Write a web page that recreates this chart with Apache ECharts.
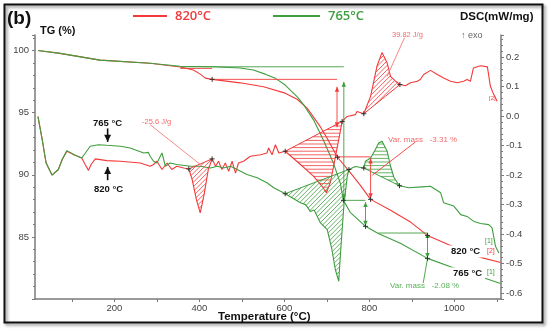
<!DOCTYPE html>
<html><head><meta charset="utf-8">
<script src="https://cdn.jsdelivr.net/npm/echarts@6/dist/echarts.min.js"></script>
<style>html,body{margin:0;padding:0;background:#fff}#c{width:550px;height:330px}</style>
</head><body><div id="c"></div>
<script>
// ---------- DATA ----------
const tgRed = [[20,100.0],[72,99.77],[166,99.23],[284,98.97],[355,98.67],[386,98.43],[402,98.10],[414,97.78],[430,97.68],[496,97.40],[551,97.08],[602,96.57],[631,96.06],[654,95.34],[685,93.85],[701,92.92],[725,91.41],[751,90.36],[779,89.15],[803,88.02],[850,87.14],[897,86.19],[937,85.12],[991,84.31],[1062,83.35],[1109,82.94]];
const tgGreen = [[20,100.0],[72,99.77],[166,99.23],[284,98.97],[355,98.73],[433,98.69],[496,98.59],[527,98.43],[555,98.10],[579,97.76],[602,97.22],[631,96.25],[646,95.60],[669,94.40],[692,92.78],[716,90.90],[732,89.29],[739,87.94],[755,86.98],[791,85.85],[821,85.28],[873,84.48],[937,83.27],[996,82.54],[1074,81.65],[1109,81.25]];
const dscRed = [[20,-0.002],[30,-0.080],[39,-0.158],[53,-0.200],[68,-0.181],[77,-0.147],[88,-0.119],[105,-0.131],[123,-0.142],[131,-0.164],[139,-0.184],[145,-0.164],[155,-0.145],[182,-0.151],[214,-0.153],[261,-0.159],[284,-0.170],[292,-0.164],[300,-0.153],[312,-0.181],[324,-0.159],[335,-0.181],[347,-0.170],[363,-0.176],[375,-0.179],[383,-0.215],[393,-0.283],[402,-0.328],[411,-0.266],[421,-0.181],[430,-0.145],[438,-0.170],[445,-0.153],[453,-0.181],[461,-0.159],[469,-0.187],[477,-0.153],[485,-0.193],[492,-0.159],[504,-0.153],[520,-0.136],[544,-0.131],[559,-0.125],[563,-0.108],[571,-0.131],[579,-0.097],[587,-0.125],[602,-0.119],[638,-0.164],[669,-0.204],[689,-0.238],[699,-0.260],[708,-0.226],[716,-0.170],[728,-0.080],[736,-0.018],[748,-0.001],[767,0.005],[771,0.016],[787,0.008],[803,0.067],[818,0.169],[830,0.216],[842,0.180],[850,0.135],[862,0.118],[872,0.107],[885,0.103],[897,0.113],[913,0.118],[920,0.124],[928,0.141],[944,0.155],[960,0.141],[975,0.129],[991,0.118],[1007,0.113],[1022,0.118],[1030,0.124],[1038,0.118],[1045,0.163],[1062,0.171],[1078,0.167],[1085,0.101],[1093,0.073],[1101,0.050]];
const dscGreen = [[20,-0.002],[30,-0.080],[39,-0.158],[53,-0.200],[68,-0.181],[77,-0.147],[88,-0.117],[105,-0.131],[123,-0.142],[143,-0.102],[162,-0.097],[182,-0.099],[214,-0.102],[237,-0.108],[269,-0.125],[280,-0.123],[284,-0.136],[292,-0.153],[300,-0.159],[308,-0.136],[312,-0.125],[320,-0.170],[331,-0.159],[347,-0.164],[379,-0.170],[402,-0.170],[426,-0.176],[442,-0.170],[457,-0.176],[473,-0.170],[489,-0.181],[512,-0.198],[536,-0.209],[559,-0.226],[575,-0.243],[591,-0.255],[602,-0.263],[606,-0.266],[638,-0.294],[650,-0.300],[661,-0.323],[670,-0.318],[685,-0.362],[701,-0.385],[712,-0.453],[720,-0.520],[728,-0.560],[732,-0.469],[736,-0.385],[740,-0.306],[748,-0.204],[752,-0.181],[767,-0.171],[787,-0.176],[791,-0.153],[803,-0.142],[814,-0.114],[822,-0.091],[830,-0.085],[842,-0.119],[850,-0.170],[858,-0.208],[871,-0.236],[893,-0.243],[924,-0.240],[944,-0.238],[968,-0.260],[975,-0.294],[999,-0.305],[1015,-0.334],[1030,-0.340],[1046,-0.357],[1062,-0.364],[1081,-0.368],[1089,-0.379],[1097,-0.441],[1105,-0.464]];

const xTickLabels = [200,400,600,800,1000];
const tgTickLabels = [85,90,95,100];
const dscTickLabels = [-0.6,-0.5,-0.4,-0.3,-0.2,-0.1,0.0,0.1,0.2];

// hatched peak areas (temperature ranges on the DSC curves)
const hatchAreas = [
  {curve:'dscRed', from:375, to:430, kind:'diag'},
  {curve:'dscRed', from:602, to:736, kind:'horiz'},
  {curve:'dscRed', from:787, to:872, kind:'diag'},
  {curve:'dscGreen', from:602, to:752, kind:'diag'},
  {curve:'dscGreen', from:787, to:871, kind:'horiz'}
];
// mass-change marks on TG curves
const tgMarksRed = [[430,97.68],[725,91.41],[803,88.02],[937,85.12]];
const tgMarksGreen = [[739,87.94],[791,85.85],[937,83.27]];
// construction lines on TG axis: [T1,TG1],[T2,TG2]
const tgGuidesRed = [
  [[355,98.56],[430,98.56],''],
  [[430,97.68],[724,97.68],''],
  [[724,97.08],[724,93.83],'both'],
  [[725,91.44],[803,91.44],''],
  [[803,91.3],[803,88.1],'both'],
  [[909,92.65],[807,89.96],'']
];
const tgGuidesGreen = [
  [[355,98.69],[740,98.69],''],
  [[740,97.48],[740,88.0],'both'],
  [[739,87.94],[791,87.94],''],
  [[791,87.8],[791,85.9],'both'],
  [[821,85.31],[937,85.31],''],
  [[937,85.31],[937,83.3],'both'],
  [[937,83.27],[927,81.3],'']
];
const tgGuidesBlack = [
  [[184,93.73],[184,92.65],'end'],
  [[184,89.56],[184,90.63],'end']
];
// label leader lines on DSC axis
const dscGuidesRed = [
  [[284,-0.029],[402,-0.164],''],
  [[883,0.266],[842,0.135],'']
];

// ---------- STYLE ----------
const RED = '#f23a3a', GREEN = '#3f9e3f';
const COL = {red:RED, green:GREEN, black:'#111'};
const curves = {dscRed, dscGreen};
const curveColor = {dscRed:RED, dscGreen:GREEN};

function hatchLines(pts, kind, gap) {
  const sf = kind === 'horiz' ? (p => p[1]) : (p => p[0] + p[1]);
  const step = kind === 'horiz' ? gap : gap * Math.SQRT2;
  const ss = pts.map(sf);
  const lo = Math.min(...ss), hi = Math.max(...ss);
  const segs = [];
  for (let s = Math.ceil(lo / step) * step; s <= hi; s += step) {
    const xs = [];
    for (let i = 0; i < pts.length; i++) {
      const j = (i + 1) % pts.length;
      const s1 = ss[i], s2 = ss[j];
      if ((s1 <= s && s < s2) || (s2 <= s && s < s1)) {
        const t = (s - s1) / (s2 - s1);
        xs.push([pts[i][0] + t * (pts[j][0] - pts[i][0]), pts[i][1] + t * (pts[j][1] - pts[i][1])]);
      }
    }
    xs.sort((a, b) => a[0] - b[0]);
    for (let k = 0; k + 1 < xs.length; k += 2) segs.push([xs[k], xs[k + 1]]);
  }
  return segs;
}

function arrowHead(tip, from, color, len, hw) {
  const dx = tip[0] - from[0], dy = tip[1] - from[1];
  const L = Math.hypot(dx, dy) || 1;
  const ux = dx / L, uy = dy / L;
  const bx = tip[0] - ux * len, by = tip[1] - uy * len;
  return {type:'polygon', shape:{points:[tip, [bx - uy * hw, by + ux * hw], [bx + uy * hw, by - ux * hw]]}, style:{fill:color}};
}

function guideSeries(list, color, yIdx, lw, big) {
  return {
    type:'custom', yAxisIndex:yIdx, z:4, silent:true,
    data: list.map((g, i) => [g[0][0], g[0][1], i]),
    renderItem: (params, api) => {
      const g = list[params.dataIndex];
      const p1 = api.coord(g[0]), p2 = api.coord(g[1]);
      const ch = [{type:'line', shape:{x1:p1[0], y1:p1[1], x2:p2[0], y2:p2[1]}, style:{stroke:color, lineWidth:lw}}];
      const len = big ? 7 : 5, hw = big ? 3.5 : 2.2;
      if (g[2] === 'end' || g[2] === 'both') ch.push(arrowHead(p2, p1, color, len, hw));
      if (g[2] === 'both') ch.push(arrowHead(p1, p2, color, len, hw));
      return {type:'group', children:ch};
    }
  };
}

function markSeries(list, yIdx) {
  return {
    type:'custom', yAxisIndex:yIdx, z:6, silent:true,
    data: list.map(p => [p[0], p[1]]),
    renderItem: (params, api) => {
      const p = api.coord([api.value(0), api.value(1)]);
      const r = 2.5;
      return {type:'group', children:[
        {type:'line', shape:{x1:p[0]-r, y1:p[1], x2:p[0]+r, y2:p[1]}, style:{stroke:'#333', lineWidth:1}},
        {type:'line', shape:{x1:p[0], y1:p[1]-r, x2:p[0], y2:p[1]+r}, style:{stroke:'#333', lineWidth:1}}
      ]};
    }
  };
}

const dscMarks = [];
hatchAreas.forEach(h => {
  const pts = curves[h.curve].filter(p => p[0] >= h.from && p[0] <= h.to);
  dscMarks.push(pts[0], pts[pts.length - 1]);
});

const hatchSeries = {
  type:'custom', yAxisIndex:1, z:3, silent:true,
  data: hatchAreas.map((h, i) => [h.from, 0, i]),
  renderItem: (params, api) => {
    const h = hatchAreas[params.dataIndex];
    const color = curveColor[h.curve];
    const pts = curves[h.curve].filter(p => p[0] >= h.from && p[0] <= h.to).map(p => api.coord(p));
    const segs = hatchLines(pts, h.kind, h.kind === 'horiz' ? 3.6 : 3.2);
    const ch = segs.map(s => ({type:'line', shape:{x1:s[0][0], y1:s[0][1], x2:s[1][0], y2:s[1][1]}, style:{stroke:color, lineWidth:0.8}}));
    const a = pts[0], b = pts[pts.length - 1];
    ch.push({type:'line', shape:{x1:a[0], y1:a[1], x2:b[0], y2:b[1]}, style:{stroke:color, lineWidth:1}});
    return {type:'group', children:ch};
  }
};

const axisGray = '#7a7a7a';
const tickFont = {fontFamily:'Liberation Sans', fontSize:9.5, color:'#444'};
const near = (v, arr) => arr.some(a => Math.abs(a - v) < 1e-6);

function txt(text, x, y, opt) {
  return Object.assign({type:'text', x:x, y:y, z:100, style:Object.assign({text:text, fill:'#111', font:'bold 11px "Liberation Sans"', textVerticalAlign:'middle'}, opt || {})});
}

const chart = echarts.init(document.getElementById('c'), null, {renderer:'canvas'});
chart.setOption({
  animation:false,
  backgroundColor:'#fff',
  grid:{left:35, right:49, top:35, bottom:31, containLabel:false},
  xAxis:{
    type:'value', min:13, max:1110, splitNumber:11,
    axisLine:{show:true, onZero:false, lineStyle:{color:axisGray, width:1.5}},
    axisTick:{show:true, length:3, lineStyle:{color:axisGray}},
    splitLine:{show:false},
    axisLabel:Object.assign({margin:4, showMinLabel:false, showMaxLabel:false,
      formatter: v => near(v, xTickLabels) ? String(Math.round(v)) : ''}, tickFont)
  },
  yAxis:[
    {type:'value', position:'left', min:80, max:101.25, interval:5,
     axisLine:{show:true, onZero:false, lineStyle:{color:axisGray, width:1.5}},
     axisTick:{show:true, length:3, lineStyle:{color:axisGray}},
     minorTick:{show:true, splitNumber:5, length:2, lineStyle:{color:axisGray}},
     splitLine:{show:false},
     axisLabel:Object.assign({margin:6, formatter: v => near(v, tgTickLabels) ? String(v) : ''}, tickFont)},
    {type:'value', position:'right', min:-0.62, max:0.275, splitNumber:9,
     axisLine:{show:true, onZero:false, lineStyle:{color:axisGray, width:1.5}},
     axisTick:{show:true, length:3, lineStyle:{color:axisGray}},
     minorTick:{show:true, splitNumber:5, length:2, lineStyle:{color:axisGray}},
     splitLine:{show:false},
     axisLabel:Object.assign({margin:5, showMinLabel:false, showMaxLabel:false,
       formatter: v => near(v, dscTickLabels) ? (Math.round(v * 10) / 10).toFixed(1) : ''}, tickFont)}
  ],
  series:[
    {type:'line', yAxisIndex:0, data:tgRed, showSymbol:false, symbol:'none', lineStyle:{color:RED, width:1.1}, z:2},
    {type:'line', yAxisIndex:0, data:tgGreen, showSymbol:false, symbol:'none', lineStyle:{color:GREEN, width:1.1}, z:2},
    {type:'line', yAxisIndex:1, data:dscRed, showSymbol:false, symbol:'none', lineStyle:{color:RED, width:1.1}, z:2},
    {type:'line', yAxisIndex:1, data:dscGreen, showSymbol:false, symbol:'none', lineStyle:{color:GREEN, width:1.1}, z:2},
    hatchSeries,
    guideSeries(tgGuidesRed, RED, 0, 0.9, false),
    guideSeries(tgGuidesGreen, GREEN, 0, 0.9, false),
    guideSeries(tgGuidesBlack, '#111', 0, 1.6, true),
    guideSeries(dscGuidesRed, '#f46a6a', 1, 0.8, false),
    markSeries(tgMarksRed.concat(tgMarksGreen), 0),
    markSeries(dscMarks, 1)
  ],
  graphic:[
    {type:'rect', z:90, shape:{x:4.5, y:4.5, width:538, height:318}, style:{fill:'none', stroke:'#111', lineWidth:2, shadowBlur:3, shadowOffsetX:2, shadowOffsetY:2, shadowColor:'rgba(0,0,0,0.45)'}},
    txt('(b)', 7, 19, {font:'bold 19px "Liberation Sans"'}),
    txt('TG (%)', 40, 31, {font:'bold 11px "Liberation Sans"'}),
    {type:'line', z:100, shape:{x1:133, y1:16, x2:167, y2:16}, style:{stroke:RED, lineWidth:2}},
    txt('820°C', 175, 16, {fill:RED, font:'600 13px "Open Sans"'}),
    {type:'line', z:100, shape:{x1:273, y1:16, x2:320, y2:16}, style:{stroke:GREEN, lineWidth:2}},
    txt('765°C', 328, 16, {fill:GREEN, font:'600 13px "Open Sans"'}),
    txt('DSC(mW/mg)', 460, 17, {font:'bold 11.5px "Liberation Sans"'}),
    txt('↑ exo', 461, 36, {fill:'#666', font:'9px "Liberation Sans"'}),
    txt('-25.6 J/g', 142, 122, {fill:'#f46a6a', font:'7.5px "Liberation Sans"'}),
    txt('39.82 J/g', 392, 35, {fill:'#f46a6a', font:'7.5px "Liberation Sans"'}),
    txt('Var. mass   -3.31 %', 388, 139.5, {fill:'#f46a6a', font:'8px "Liberation Sans"'}),
    txt('Var. mass   -2.08 %', 390, 286, {fill:'#58b058', font:'8px "Liberation Sans"'}),
    txt('765 °C', 93, 123, {font:'bold 9.5px "Liberation Sans"'}),
    txt('820 °C', 94, 189, {font:'bold 9.5px "Liberation Sans"'}),
    txt('820 °C', 448, 251.5, {font:'bold 9.5px "Liberation Sans"', backgroundColor:'#fff', padding:[1,3]}),
    txt('765 °C', 450, 273.5, {font:'bold 9.5px "Liberation Sans"', backgroundColor:'#fff', padding:[1,3]}),
    txt('[1]', 485, 241, {fill:GREEN, font:'7px "Liberation Sans"'}),
    txt('[2]', 487, 251.5, {fill:RED, font:'7px "Liberation Sans"'}),
    txt('[1]', 487, 272, {fill:GREEN, font:'7px "Liberation Sans"'}),
    txt('[2]', 489, 98, {fill:RED, font:'6px "Liberation Sans"'}),
    txt('Temperature (°C)', 218, 317, {font:'bold 11.5px "Liberation Sans"'})
  ]
});
</script></body></html>
